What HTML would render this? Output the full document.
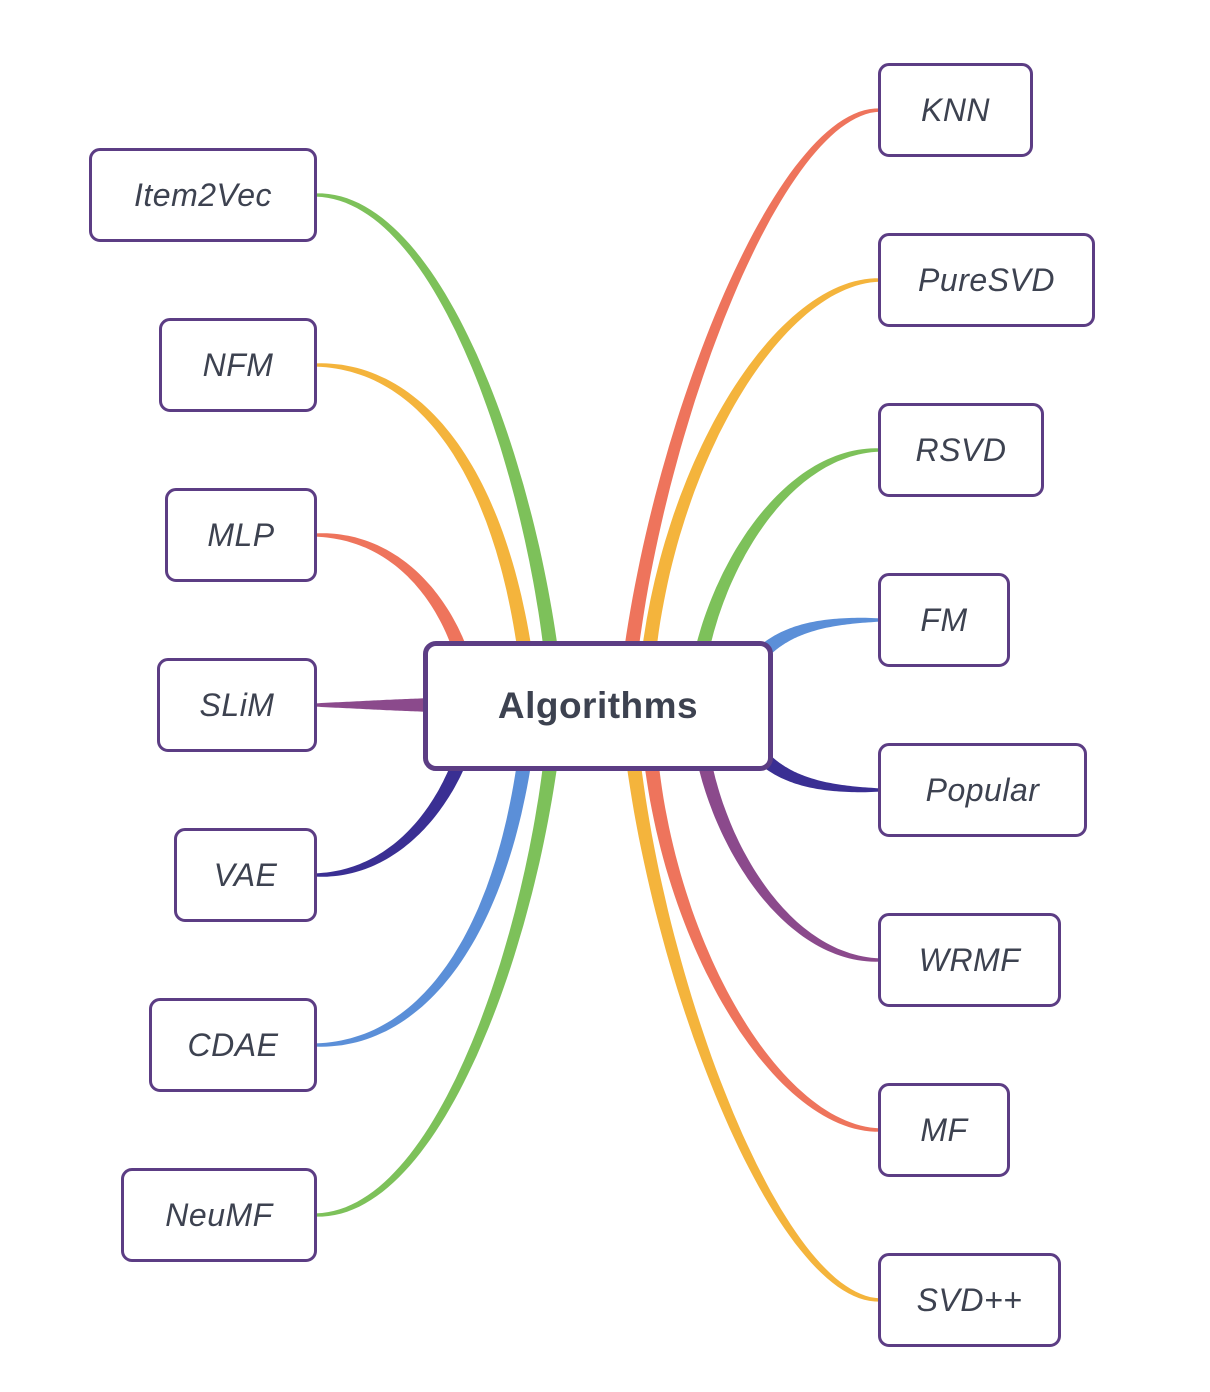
<!DOCTYPE html>
<html><head><meta charset="utf-8"><style>
html,body{margin:0;padding:0;background:#fff;width:1210px;height:1392px;overflow:hidden}
svg{position:absolute;left:0;top:0}
.n{position:absolute;box-sizing:border-box;border:3px solid #5c3d84;border-radius:11px;background:#fff;display:flex;align-items:center;justify-content:center;font-family:"Liberation Sans",sans-serif;font-style:italic;font-size:32px;color:#3d4250;letter-spacing:0.5px}
.c{font-style:normal;font-weight:bold;font-size:37px;border-width:5px;border-radius:13px}
</style></head><body>
<svg id="s" width="1210" height="1392"></svg>
<div class="n" style="left:89px;top:148px;width:228px;height:94px">Item2Vec</div>
<div class="n" style="left:159px;top:318px;width:158px;height:94px">NFM</div>
<div class="n" style="left:165px;top:488px;width:152px;height:94px">MLP</div>
<div class="n" style="left:157px;top:658px;width:160px;height:94px">SLiM</div>
<div class="n" style="left:174px;top:828px;width:143px;height:94px">VAE</div>
<div class="n" style="left:149px;top:998px;width:168px;height:94px">CDAE</div>
<div class="n" style="left:121px;top:1168px;width:196px;height:94px">NeuMF</div>
<div class="n" style="left:878px;top:63px;width:155px;height:94px">KNN</div>
<div class="n" style="left:878px;top:233px;width:217px;height:94px">PureSVD</div>
<div class="n" style="left:878px;top:403px;width:166px;height:94px">RSVD</div>
<div class="n" style="left:878px;top:573px;width:132px;height:94px">FM</div>
<div class="n" style="left:878px;top:743px;width:209px;height:94px">Popular</div>
<div class="n" style="left:878px;top:913px;width:183px;height:94px">WRMF</div>
<div class="n" style="left:878px;top:1083px;width:132px;height:94px">MF</div>
<div class="n" style="left:878px;top:1253px;width:183px;height:94px">SVD++</div>
<div class="n c" style="left:423px;top:641px;width:350px;height:130px">Algorithms</div>
<script>
var G='#7dc15a',O='#f4b43c',R='#ee745c',P='#8b4a8c',N='#3a2f93',B='#5b8fd8';
var L=[
[[316,195],[440,195],[530,470],[552,660],G],
[[316,365],[420,365],[500,470],[526,660],O],
[[316,535],[390,535],[440,590],[462,655],R],
[[316,705],[370,705],[390,705],[440,705],P],
[[316,875],[390,875],[440,815],[462,755],N],
[[316,1045],[420,1045],[500,940],[526,750],B],
[[316,1215],[440,1215],[530,940],[552,750],G],
[[880,110],[780,110],[660,420],[630,660],R],
[[880,280],[780,280],[670,460],[648,660],O],
[[880,450],[790,450],[720,560],[700,660],G],
[[880,620],[820,620],[785,630],[760,655],B],
[[880,790],[820,790],[785,780],[760,755],N],
[[880,960],[790,960],[720,850],[702,750],P],
[[880,1130],[780,1130],[670,950],[650,750],R],
[[880,1300],[780,1300],[660,990],[632,750],O]];
var s=document.getElementById('s'),h='';
L.forEach(function(l){
 var a=l[0],b=l[1],c=l[2],d=l[3],n=60,L1=[],L2=[];
 for(var i=0;i<=n;i++){var t=i/n,u=1-t;
  var x=u*u*u*a[0]+3*u*u*t*b[0]+3*u*t*t*c[0]+t*t*t*d[0];
  var y=u*u*u*a[1]+3*u*u*t*b[1]+3*u*t*t*c[1]+t*t*t*d[1];
  var dx=3*u*u*(b[0]-a[0])+6*u*t*(c[0]-b[0])+3*t*t*(d[0]-c[0]);
  var dy=3*u*u*(b[1]-a[1])+6*u*t*(c[1]-b[1])+3*t*t*(d[1]-c[1]);
  var m=Math.hypot(dx,dy)||1,w=(1.6+Math.pow(t,0.8)*5.6);
  L1.push((x-dy/m*w).toFixed(1)+','+(y+dx/m*w).toFixed(1));
  L2.unshift((x+dy/m*w).toFixed(1)+','+(y-dx/m*w).toFixed(1));}
 h+='<polygon fill="'+l[4]+'" points="'+L1.concat(L2).join(' ')+'"/>';
});
s.innerHTML=h;
</script>
</body></html>
